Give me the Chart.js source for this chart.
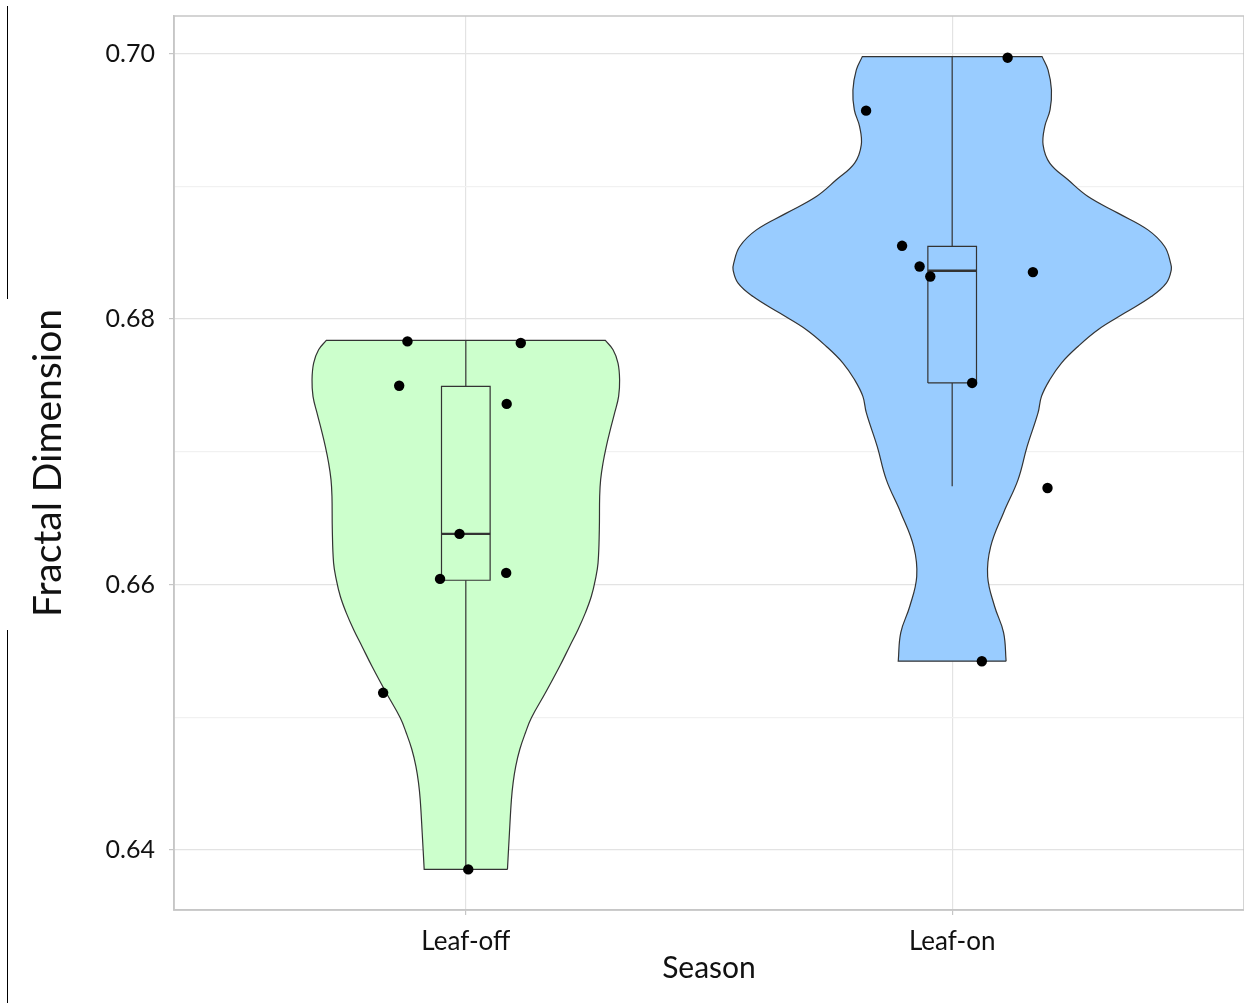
<!DOCTYPE html>
<html>
<head>
<meta charset="utf-8">
<title>Fractal Dimension by Season</title>
<script src="https://cdn.jsdelivr.net/npm/chart.js@4.4.1/dist/chart.umd.min.js"></script>
<style>
  body { margin: 0; background: #fff; overflow: hidden; }
  #wrap { position: relative; width: 1244px; height: 1003px; }
  #violinChart { display: block; }
  .edge { position: absolute; left: 7px; width: 1px; background: #000; }
</style>
</head>
<body>
<div id="wrap">
  <canvas id="violinChart" width="1244" height="1003"></canvas>
  <div class="edge" style="top:6px;height:293px"></div>
  <div class="edge" style="top:630px;height:373px"></div>
</div>
<script>
var seasons = ['Leaf-off', 'Leaf-on'];
var seasonColors = ['#ccffcc', '#99ccff'];

// violin outline: value levels (bottom -> top) and half width in category units
var leafOffLevels = [0.63854, 0.64130, 0.64381, 0.64507, 0.64632, 0.64757, 0.64883, 0.64996, 0.65184, 0.65384,
                     0.65535, 0.65661, 0.65786, 0.65911, 0.66037, 0.66163, 0.66413, 0.66664, 0.66790, 0.66915,
                     0.67040, 0.67166, 0.67292, 0.67417, 0.67542, 0.67668, 0.67768, 0.67838];
var leafOffHalfWidth = [0.0856, 0.0897, 0.0938, 0.0973, 0.1027, 0.1109, 0.1226, 0.1349, 0.1637, 0.1930,
                        0.2136, 0.2308, 0.2458, 0.2581, 0.2663, 0.2719, 0.2745, 0.2752, 0.2772, 0.2821,
                        0.2889, 0.2971, 0.3060, 0.3142, 0.3162, 0.3129, 0.3027, 0.2869];

var leafOnLevels = [0.65422, 0.65638, 0.65834, 0.66060, 0.66285, 0.66541, 0.66790, 0.67038, 0.67294, 0.67417,
                    0.67542, 0.67668, 0.67793, 0.67919, 0.68044, 0.68169, 0.68270, 0.68370, 0.68421, 0.68546,
                    0.68671, 0.68797, 0.68922, 0.69048, 0.69174, 0.69311, 0.69449, 0.69575, 0.69725, 0.69876,
                    0.69976];
var leafOnHalfWidth = [0.1109, 0.1057, 0.0873, 0.0729, 0.0791, 0.1057, 0.1355, 0.1540, 0.1766, 0.1836,
                       0.2006, 0.2246, 0.2587, 0.2998, 0.3546, 0.4094, 0.4402, 0.4505, 0.4491, 0.4368,
                       0.4025, 0.3409, 0.2793, 0.2382, 0.2006, 0.1869, 0.1903, 0.2012, 0.2041, 0.1971,
                       0.1848];

// jittered observations
var leafOffJitter = [-0.120, 0.113, -0.137, 0.084, -0.013, -0.053, 0.083, -0.170, 0.005];
var leafOffValues = [0.67831, 0.67819, 0.67497, 0.67360, 0.66381, 0.66042, 0.66087, 0.65184, 0.63854];
var leafOnJitter = [0.114, -0.177, -0.103, -0.067, -0.045, 0.166, 0.041, 0.196, 0.061];
var leafOnValues = [0.69968, 0.69569, 0.68551, 0.68395, 0.68320, 0.68353, 0.67518, 0.66727, 0.65422];

// box plot stats, one per season
var boxQ1 = [0.66032, 0.67518];
var boxMedian = [0.66381, 0.68363];
var boxQ3 = [0.67492, 0.68546];
var whiskerLow = [0.63854, 0.66739];
var whiskerHigh = [0.67836, 0.69976];
var boxHalf = 0.05;

var yTicks = [0.64, 0.65, 0.66, 0.67, 0.68, 0.69, 0.70];

function isMajor(v) {
    return Math.round(v * 100) % 2 === 0;
}

function violinOutline(center, levels, widths) {
    var n = levels.length;
    var pts = [];
    for (var i = 0; i < n; i++) pts.push({x: center + widths[i], y: levels[i]});
    pts.push({x: center + widths[n - 1], y: levels[n - 1]});
    pts.push({x: center - widths[n - 1], y: levels[n - 1]});
    for (var j = n - 1; j >= 0; j--) pts.push({x: center - widths[j], y: levels[j]});
    pts.push({x: center - widths[0], y: levels[0]});
    pts.push({x: center + widths[0], y: levels[0]});
    return pts;
}

function lineSet(data, width, order) {
    return {
        data: data,
        showLine: true,
        fill: false,
        borderColor: '#333',
        borderWidth: width,
        pointRadius: 0,
        tension: 0,
        order: order
    };
}

// keep the plot panel exactly where the axes put it
function noPadding(axis) {
    axis.paddingTop = 0;
    axis.paddingBottom = 0;
    axis.paddingLeft = 0;
    axis.paddingRight = 0;
}

var datasets = [];

// points on top
[[leafOffJitter, leafOffValues], [leafOnJitter, leafOnValues]].forEach(function(g, k) {
    datasets.push({
        data: g[1].map(function(v, i) { return {x: k + 1 + g[0][i], y: v}; }),
        showLine: false,
        pointRadius: 5.2,
        pointBackgroundColor: '#000',
        pointBorderWidth: 0,
        order: 0
    });
});

// boxes, medians, whiskers
for (var k = 0; k < seasons.length; k++) {
    var c = k + 1;
    datasets.push(lineSet([
        {x: c - boxHalf, y: boxQ1[k]}, {x: c + boxHalf, y: boxQ1[k]},
        {x: c + boxHalf, y: boxQ3[k]}, {x: c - boxHalf, y: boxQ3[k]},
        {x: c - boxHalf, y: boxQ1[k]}], 1.2, 1));
    datasets.push(lineSet([{x: c - boxHalf, y: boxMedian[k]}, {x: c + boxHalf, y: boxMedian[k]}], 2.4, 1));
    datasets.push(lineSet([{x: c, y: boxQ3[k]}, {x: c, y: whiskerHigh[k]}], 1.2, 1));
    datasets.push(lineSet([{x: c, y: boxQ1[k]}, {x: c, y: whiskerLow[k]}], 1.2, 1));
}

// violins underneath
[[leafOffLevels, leafOffHalfWidth], [leafOnLevels, leafOnHalfWidth]].forEach(function(g, k) {
    datasets.push({
        data: violinOutline(k + 1, g[0], g[1]),
        showLine: true,
        fill: 'shape',
        backgroundColor: seasonColors[k],
        borderColor: '#333',
        borderWidth: 1.2,
        pointRadius: 0,
        tension: 0.4,
        order: 2
    });
});

var panelBorder = {
    id: 'panelBorder',
    beforeDatasetsDraw: function(chart) {
        var a = chart.chartArea, ctx = chart.ctx;
        ctx.save();
        ctx.strokeStyle = '#c6c6c6';
        ctx.lineWidth = 1.5;
        ctx.strokeRect(a.left, a.top, a.right - a.left, a.bottom - a.top);
        ctx.restore();
    }
};

Chart.defaults.font.family = 'Lato';
Chart.defaults.color = '#111';

new Chart(document.getElementById('violinChart'), {
    type: 'scatter',
    data: {datasets: datasets},
    options: {
        responsive: false,
        animation: false,
        layout: {autoPadding: false, padding: {top: 16, right: 0, bottom: 0, left: 0}},
        plugins: {legend: {display: false}, tooltip: {enabled: false}},
        scales: {
            x: {
                type: 'linear',
                min: 0.4,
                max: 2.6,
                afterBuildTicks: function(axis) {
                    axis.ticks = seasons.map(function(s, i) { return {value: i + 1}; });
                },
                afterFit: function(axis) { axis.height = 93; noPadding(axis); },
                ticks: {
                    padding: 11,
                    font: {size: 26},
                    maxRotation: 0,
                    callback: function(v) { return seasons[v - 1]; }
                },
                grid: {color: '#e3e3e3', lineWidth: 1.2, tickLength: 5, tickColor: '#c6c6c6'},
                border: {color: '#c6c6c6', width: 1.5},
                title: {display: true, text: 'Season', font: {size: 30}, padding: {top: 0, bottom: 17}, color: '#111'}
            },
            y: {
                min: 0.63548,
                max: 0.70282,
                afterBuildTicks: function(axis) {
                    axis.ticks = yTicks.map(function(v) { return {value: v}; });
                },
                afterFit: function(axis) { axis.width = 174; noPadding(axis); },
                ticks: {
                    padding: 14,
                    font: {size: 25},
                    callback: function(v) { return isMajor(v) ? v.toFixed(2) : ''; }
                },
                grid: {
                    color: function(ctx) { return isMajor(ctx.tick.value) ? '#e3e3e3' : '#f1f1f1'; },
                    lineWidth: 1.2,
                    tickLength: 5,
                    tickColor: function(ctx) { return isMajor(ctx.tick.value) ? '#c6c6c6' : 'rgba(0,0,0,0)'; }
                },
                border: {color: '#c6c6c6', width: 1.5},
                title: {display: true, text: 'Fractal Dimension', font: {size: 39}, padding: {top: 25, bottom: 0}, color: '#111'}
            }
        }
    },
    plugins: [panelBorder]
});
</script>
</body>
</html>
